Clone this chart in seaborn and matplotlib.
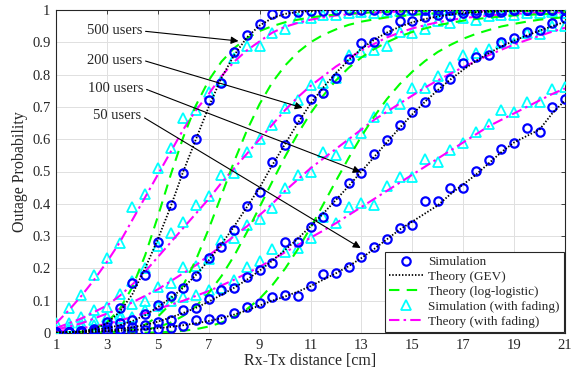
import numpy as np
import pandas as pd
import matplotlib
matplotlib.use("Agg")
import matplotlib.pyplot as plt
from matplotlib.lines import Line2D
import seaborn as sns

# ---------------- data ----------------
dist = [1, 1.5, 2, 2.5, 3, 3.5, 4, 4.5, 5, 5.5, 6, 6.5, 7, 7.5, 8, 8.5, 9, 9.5, 10, 10.5,
        11, 11.5, 12, 12.5, 13, 13.5, 14, 14.5, 15, 15.5, 16, 16.5, 17, 17.5, 18, 18.5,
        19, 19.5, 20, 20.5, 21]

# 500 users
sim500 = [0.002, 0.003, 0.005, 0.012, 0.035, 0.077, 0.154, 0.18, 0.283, 0.396, 0.494, 0.6, 0.72,
          0.773, 0.871, 0.923, 0.957, 0.987, 0.99, 0.995, 0.997, 0.998, 1, 1, 1, 1, 1, 1, 1, 1,
          1, 1, 1, 1, 1, 1, 1, 1, 1, 1, 1]
gev500 = [0.001, 0.002, 0.005, 0.012, 0.03, 0.065, 0.12, 0.2, 0.29, 0.39, 0.5, 0.6, 0.7, 0.79,
          0.86, 0.915, 0.952, 0.975, 0.988, 0.994, 0.997, 0.999, 1, 1, 1, 1, 1, 1, 1, 1, 1, 1,
          1, 1, 1, 1, 1, 1, 1, 1, 1]
ll500 = [0.0001, 0.0008, 0.0036, 0.0123, 0.0328, 0.0734, 0.142, 0.24, 0.36, 0.488, 0.606, 0.705,
         0.782, 0.84, 0.882, 0.912, 0.935, 0.95, 0.962, 0.97, 0.977, 0.982, 0.986, 0.989, 0.991,
         0.993, 0.994, 0.995, 0.996, 0.9965, 0.997, 0.9975, 0.998, 0.998, 0.998, 0.9985, 0.999,
         0.999, 0.999, 0.999, 0.999]
fad500 = [0.03, 0.07, 0.115, 0.165, 0.22, 0.28, 0.35, 0.42, 0.49, 0.56, 0.63, 0.69, 0.74, 0.795,
          0.84, 0.875, 0.903, 0.93, 0.948, 0.96, 0.97, 0.977, 0.983, 0.987, 0.99, 0.992, 0.994,
          0.995, 0.996, 0.997, 0.998, 0.998, 0.999, 0.999, 0.999, 0.999, 0.999, 0.999, 0.999,
          0.999, 0.999]
sfad500 = [0.03, 0.076, 0.118, 0.18, 0.231, 0.28, 0.39, 0.43, 0.51, 0.572, 0.667, 0.69, 0.747,
           0.78, 0.85, 0.889, 0.889, 0.93, 0.94, 0.974, 0.975, 0.985, 0.983, 0.99, 0.995, 0.99,
           0.995, 0.998, 1, 1, 1, 1, 1, 1, 1, 1, 1, 1, 1, 1, 1]

# 200 users
sim200 = [0.002, 0.004, 0.006, 0.01, 0.018, 0.03, 0.04, 0.06, 0.087, 0.115, 0.14, 0.177, 0.231,
          0.265, 0.319, 0.393, 0.435, 0.53, 0.582, 0.664, 0.725, 0.742, 0.789, 0.848, 0.898,
          0.9, 0.939, 0.965, 0.965, 0.978, 0.985, 0.98, 0.99, 0.99, 0.995, 0.995, 1, 1, 1, 1, 1]
gev200 = [0.001, 0.003, 0.005, 0.009, 0.015, 0.024, 0.037, 0.055, 0.08, 0.108, 0.14, 0.18, 0.225,
          0.275, 0.33, 0.39, 0.45, 0.52, 0.585, 0.65, 0.71, 0.76, 0.805, 0.845, 0.88, 0.908,
          0.93, 0.948, 0.962, 0.972, 0.98, 0.986, 0.99, 0.993, 0.995, 0.996, 0.997, 0.998,
          0.998, 0.999, 0.999]
ll200 = [0.0, 0.00002, 0.00014, 0.0006, 0.0019, 0.0052, 0.0123, 0.026, 0.0506, 0.09, 0.148, 0.227,
         0.322, 0.426, 0.531, 0.627, 0.709, 0.776, 0.828, 0.869, 0.9, 0.923, 0.94, 0.954, 0.964,
         0.971, 0.977, 0.981, 0.985, 0.988, 0.99, 0.992, 0.993, 0.994, 0.9955, 0.996, 0.997,
         0.9975, 0.998, 0.998, 0.998]
fad200 = [0.015, 0.03, 0.045, 0.065, 0.085, 0.115, 0.15, 0.19, 0.235, 0.28, 0.325, 0.37, 0.415,
          0.465, 0.51, 0.555, 0.6, 0.645, 0.69, 0.73, 0.765, 0.795, 0.825, 0.85, 0.875, 0.895,
          0.915, 0.93, 0.943, 0.953, 0.962, 0.969, 0.975, 0.979, 0.983, 0.986, 0.988, 0.99,
          0.991, 0.992, 0.993]
sfad200 = [0.012, 0.03, 0.05, 0.07, 0.082, 0.12, 0.16, 0.2, 0.27, 0.309, 0.345, 0.396, 0.424,
           0.489, 0.494, 0.561, 0.6, 0.643, 0.696, 0.721, 0.768, 0.773, 0.789, 0.861, 0.87,
           0.876, 0.89, 0.933, 0.93, 0.94, 0.965, 0.96, 0.975, 0.97, 0.98, 0.985, 0.985, 0.99,
           0.99, 0.995, 0.99]

# 100 users
sim100 = [0.001, 0.002, 0.003, 0.005, 0.008, 0.012, 0.018, 0.025, 0.035, 0.04, 0.071, 0.076,
          0.104, 0.133, 0.14, 0.174, 0.196, 0.216, 0.283, 0.283, 0.329, 0.36, 0.41, 0.465,
          0.494, 0.553, 0.598, 0.643, 0.685, 0.716, 0.762, 0.785, 0.835, 0.856, 0.861, 0.902,
          0.912, 0.933, 0.938, 0.96, 0.974]
gev100 = [0.001, 0.002, 0.003, 0.005, 0.008, 0.012, 0.018, 0.025, 0.035, 0.048, 0.062, 0.078,
          0.097, 0.118, 0.14, 0.165, 0.193, 0.224, 0.257, 0.292, 0.33, 0.37, 0.412, 0.455, 0.5,
          0.545, 0.59, 0.635, 0.677, 0.716, 0.752, 0.785, 0.815, 0.842, 0.866, 0.887, 0.905,
          0.921, 0.936, 0.95, 0.963]
ll100 = [0.0, 0.00001, 0.0001, 0.0003, 0.0009, 0.0022, 0.0049, 0.0099, 0.0184, 0.032, 0.053,
         0.083, 0.124, 0.176, 0.239, 0.312, 0.39, 0.469, 0.546, 0.617, 0.68, 0.735, 0.782, 0.821,
         0.853, 0.879, 0.9, 0.918, 0.932, 0.943, 0.953, 0.96, 0.967, 0.972, 0.976, 0.98, 0.983,
         0.985, 0.987, 0.989, 0.99]
fad100 = [0.01, 0.02, 0.03, 0.045, 0.06, 0.075, 0.095, 0.115, 0.135, 0.16, 0.185, 0.21, 0.24,
          0.27, 0.3, 0.33, 0.365, 0.4, 0.44, 0.475, 0.51, 0.54, 0.57, 0.6, 0.63, 0.66, 0.685,
          0.71, 0.735, 0.76, 0.782, 0.803, 0.823, 0.842, 0.86, 0.877, 0.893, 0.907, 0.92, 0.933,
          0.945]
sfad100 = [0.005, 0.02, 0.03, 0.04, 0.05, 0.06, 0.09, 0.1, 0.143, 0.154, 0.203, 0.207, 0.23,
           0.288, 0.293, 0.334, 0.352, 0.386, 0.448, 0.49, 0.5, 0.561, 0.551, 0.587, 0.618,
           0.67, 0.696, 0.708, 0.76, 0.757, 0.796, 0.824, 0.861, 0.868, 0.88, 0.897, 0.897,
           0.928, 0.925, 0.95, 0.95]

# 50 users
sim50 = [0.001, 0.002, 0.002, 0.003, 0.004, 0.005, 0.007, 0.009, 0.012, 0.016, 0.023, 0.04,
         0.042, 0.042, 0.061, 0.082, 0.092, 0.11, 0.118, 0.115, 0.146, 0.182, 0.187, 0.205,
         0.234, 0.267, 0.29, 0.325, 0.334, 0.41, 0.41, 0.448, 0.448, 0.502, 0.536, 0.57, 0.589,
         0.636, 0.623, 0.7, 0.723]
gev50 = [0.001, 0.002, 0.003, 0.004, 0.005, 0.007, 0.009, 0.012, 0.015, 0.019, 0.024, 0.03,
         0.037, 0.046, 0.057, 0.07, 0.085, 0.1, 0.113, 0.128, 0.145, 0.165, 0.185, 0.207, 0.232,
         0.26, 0.29, 0.32, 0.345, 0.37, 0.395, 0.43, 0.46, 0.49, 0.525, 0.56, 0.59, 0.61, 0.63,
         0.68, 0.72]
ll50 = [0.0, 0.0, 0.0, 0.0, 0.00005, 0.0001, 0.0004, 0.001, 0.0019, 0.0037, 0.0069, 0.012, 0.02,
        0.032, 0.0495, 0.074, 0.106, 0.148, 0.199, 0.259, 0.326, 0.398, 0.471, 0.542, 0.609,
        0.67, 0.724, 0.77, 0.809, 0.842, 0.87, 0.892, 0.911, 0.926, 0.938, 0.949, 0.957, 0.964,
        0.97, 0.974, 0.978]
fad50 = [0.005, 0.01, 0.015, 0.021, 0.028, 0.038, 0.05, 0.062, 0.075, 0.087, 0.1, 0.115, 0.13,
         0.147, 0.165, 0.185, 0.205, 0.227, 0.25, 0.272, 0.295, 0.317, 0.34, 0.365, 0.39, 0.415,
         0.44, 0.465, 0.49, 0.515, 0.54, 0.565, 0.59, 0.615, 0.64, 0.66, 0.68, 0.7, 0.72, 0.74,
         0.757]
sfad50 = [0.005, 0.01, 0.02, 0.025, 0.03, 0.045, 0.05, 0.07, 0.084, 0.1, 0.112, 0.118, 0.133,
          0.14, 0.164, 0.203, 0.224, 0.26, 0.252, 0.262, 0.293, 0.36, 0.341, 0.39, 0.401, 0.396,
          0.455, 0.484, 0.484, 0.54, 0.53, 0.567, 0.587, 0.623, 0.647, 0.69, 0.683, 0.716, 0.716,
          0.754, 0.763]

users = ["500 users", "200 users", "100 users", "50 users"]
sims = [sim500, sim200, sim100, sim50]
gevs = [gev500, gev200, gev100, gev50]
lls = [ll500, ll200, ll100, ll50]
fads = [fad500, fad200, fad100, fad50]
sfads = [sfad500, sfad200, sfad100, sfad50]

# annotation anchors (text right end, arrow tip) in data units
label_xy = [(4.39, 0.935), (4.39, 0.845), (4.43, 0.758), (4.35, 0.672)]
arrow_xy = [(8.17, 0.904), (10.69, 0.697), (12.97, 0.498), (12.97, 0.263)]

xticks = [1, 3, 5, 7, 9, 11, 13, 15, 17, 19, 21]
yticks = [0, 0.1, 0.2, 0.3, 0.4, 0.5, 0.6, 0.7, 0.8, 0.9, 1]
yticklabels = ["0", "0.1", "0.2", "0.3", "0.4", "0.5", "0.6", "0.7", "0.8", "0.9", "1"]

# ---------------- long table ----------------
rows = []
for u, s, g, l, f, sf in zip(users, sims, gevs, lls, fads, sfads):
    for name, arr in [("sim", s), ("gev", g), ("ll", l), ("fad", f), ("sfad", sf)]:
        for d, p in zip(dist, arr):
            rows.append({"users": u, "kind": name, "dist": d, "p": p})
df = pd.DataFrame(rows)

# ---------------- style ----------------
sns.set_style("white")
plt.rcParams["font.family"] = ["Liberation Serif", "DejaVu Serif"]

BLUE = "#0000FF"
CYAN = "#00FFFF"
GREEN = "#00FF00"
MAGENTA = "#FF00FF"
INK = "#262626"

fig = plt.figure(figsize=(5.82, 3.76), dpi=100)
ax = fig.add_axes([56 / 582, 1 - 333 / 376, (565 - 56) / 582, (333 - 10) / 376])

for u in users:
    sub = df[df["users"] == u]
    d = sub[sub["kind"] == "sfad"]
    sns.lineplot(data=d, x="dist", y="p", ax=ax, estimator=None, sort=False,
                 linestyle="", marker="^", markersize=6.5, markerfacecolor="none",
                 markeredgecolor=CYAN, markeredgewidth=1.3, color=CYAN, legend=False, zorder=3)
for u in users:
    sub = df[df["users"] == u]
    d = sub[sub["kind"] == "fad"]
    sns.lineplot(data=d, x="dist", y="p", ax=ax, estimator=None, sort=False,
                 color=MAGENTA, lw=1.5, legend=False, zorder=4)
    ax.lines[-1].set_dashes([5, 2, 1.2, 2])
for u in users:
    sub = df[df["users"] == u]
    d = sub[sub["kind"] == "ll"]
    sns.lineplot(data=d, x="dist", y="p", ax=ax, estimator=None, sort=False,
                 color=GREEN, lw=1.5, legend=False, zorder=4)
    ax.lines[-1].set_dashes([5, 3.5])
for u in users:
    sub = df[df["users"] == u]
    d = sub[sub["kind"] == "sim"]
    sns.lineplot(data=d, x="dist", y="p", ax=ax, estimator=None, sort=False,
                 linestyle="", marker="o", markersize=6, markerfacecolor="none",
                 markeredgecolor=BLUE, markeredgewidth=1.6, color=BLUE, legend=False, zorder=5)
for u in users:
    sub = df[df["users"] == u]
    d = sub[sub["kind"] == "gev"]
    sns.lineplot(data=d, x="dist", y="p", ax=ax, estimator=None, sort=False,
                 color="black", lw=1.3, legend=False, zorder=6)
    ax.lines[-1].set_dashes([0.8, 1.0])

# annotations
for u, (tx, ty), (ax_, ay) in zip(users, label_xy, arrow_xy):
    ax.annotate(u, xy=(ax_, ay), xytext=(tx, ty), ha="right", va="center", fontsize=10.5,
                arrowprops=dict(arrowstyle="-|>", color="black", lw=0.8, shrinkA=0, shrinkB=0,
                                mutation_scale=11, relpos=(1.0, 0.5)), zorder=7)

ax.set_xlim(1, 21)
ax.set_ylim(0, 1)
ax.set_xticks(xticks)
ax.set_yticks(yticks)
ax.set_yticklabels(yticklabels)
ax.tick_params(direction="in", length=3, width=0.6, top=True, right=True,
               labelsize=10.5, colors=INK, pad=4)
ax.grid(True, color="#E0E0E0", lw=0.7)
ax.set_axisbelow(True)
for sp in ax.spines.values():
    sp.set_visible(True)
    sp.set_color(INK)
    sp.set_linewidth(0.8)
ax.set_xlabel("Rx-Tx distance [cm]", fontsize=11.5, color=INK, labelpad=1)
ax.set_ylabel("Outage Probability", fontsize=11.5, color=INK, labelpad=3)

handles = [
    Line2D([], [], ls="", marker="o", markersize=6, markerfacecolor="none",
           markeredgecolor=BLUE, markeredgewidth=1.6),
    Line2D([], [], color="black", lw=1.3, dashes=[0.8, 1.0]),
    Line2D([], [], color=GREEN, lw=1.5, dashes=[5, 3.5]),
    Line2D([], [], ls="", marker="^", markersize=6.5, markerfacecolor="none",
           markeredgecolor=CYAN, markeredgewidth=1.3),
    Line2D([], [], color=MAGENTA, lw=1.5, dashes=[5, 2, 1.2, 2]),
]
labels = ["Simulation", "Theory (GEV)", "Theory (log-logistic)",
          "Simulation (with fading)", "Theory (with fading)"]
leg = ax.legend(handles, labels, loc="lower right", fontsize=9.5, frameon=True,
                fancybox=False, framealpha=1, edgecolor=INK, borderaxespad=0.1,
                handlelength=2.6, handletextpad=0.35, labelspacing=0.2, borderpad=0.3)
leg.get_frame().set_linewidth(0.8)
leg.set_zorder(10)

fig.savefig("out.png", dpi=100)
